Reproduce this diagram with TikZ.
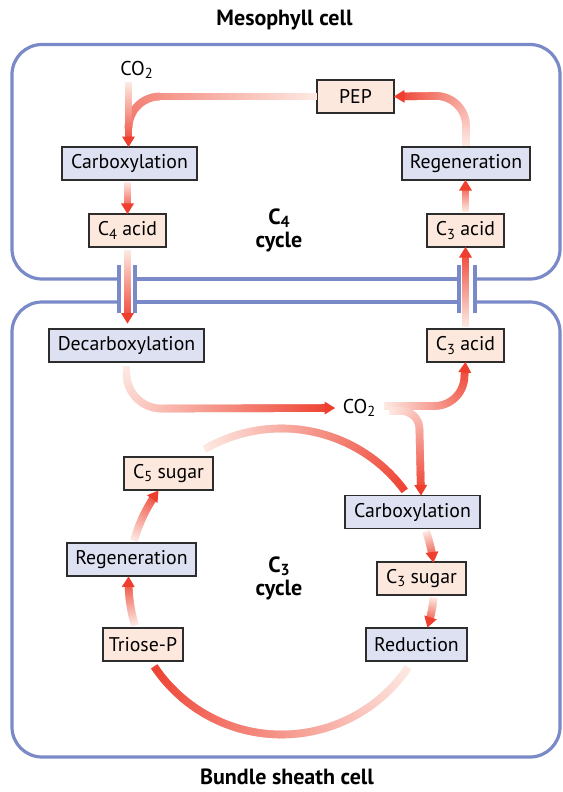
\documentclass[tikz,border=0pt]{standalone}
\usepackage{fontspec}
\setmainfont{PT Sans}
\usetikzlibrary{decorations.markings,calc}
\definecolor{gstart}{RGB}{253,234,227}
\definecolor{gend}{RGB}{238,62,46}
\definecolor{wall}{RGB}{122,137,200}
\definecolor{procfill}{RGB}{222,225,241}
\definecolor{chemfill}{RGB}{253,232,222}
\definecolor{boxline}{RGB}{45,45,45}
\newcommand\sbs[1]{\raisebox{-0.32ex}{\fontsize{14.5}{14.5}\selectfont #1}}
\newcommand\bsbs[1]{\raisebox{-0.32ex}{\fontsize{16}{16}\selectfont #1}}
\def\gmax{100}
\newcommand\gseg{%
  \pgfmathsetmacro\gpct{min(100,max(0,(\pgfkeysvalueof{/pgf/decoration/mark info/distance from start}/\pgfdecoratedpathlength)*\gmax))}%
  \fill[gend!\gpct!gstart] (-0.6pt,-3.8pt) rectangle (0.6pt,3.8pt);}
\newcommand\ghead{\fill[gend] (0.6pt,0pt) -- (-10pt,6.5pt) -- (-10pt,-6.5pt) -- cycle;}
\tikzset{
  garrow/.style={decoration={markings,
      mark=between positions 0 and -7pt step 0.7pt with {\gseg},
      mark=at position 1 with {\ghead}}, decorate},
  gline/.style={/utils/exec={\def\gmax{72}}, decoration={markings,
      mark=between positions 0 and 1 step 0.7pt with {\gseg}}, decorate},
  box/.style={draw=boxline, line width=1.1pt, minimum height=33pt, inner sep=0pt,
      font=\fontsize{19.8}{22}\selectfont},
  proc/.style={box, fill=procfill},
  chem/.style={box, fill=chemfill},
  wallline/.style={draw=wall, line width=3.2pt},
  barline/.style={draw=wall, line width=4pt},
  plain/.style={inner sep=0pt, font=\fontsize{20}{22}\selectfont},
  celltitle/.style={inner sep=0pt, font=\bfseries\fontsize{22}{24}\selectfont},
  cyclelabel/.style={inner sep=0pt, align=center, font=\bfseries\fontsize{22}{23}\selectfont},
}
\begin{document}
\begin{tikzpicture}[x=1pt,y=1pt]
\useasboundingbox (0,0) rectangle (562,-792);
\fill[white] (0,0) rectangle (562,-792);

% cell walls
\draw[wallline, rounded corners=30pt] (119,-279) -- (12,-279) -- (12,-44.5) -- (560,-44.5) -- (560,-279) -- (474.5,-279);
\draw[wallline] (135,-279) -- (459,-279);
\draw[wallline, rounded corners=30pt] (119,-302) -- (12,-302) -- (12,-757) -- (560,-757) -- (560,-302) -- (474.5,-302);
\draw[wallline] (135,-302) -- (459,-302);
\draw[barline] (119,-265) -- (119,-313);
\draw[barline] (135,-265) -- (135,-313);
\draw[barline] (459,-265) -- (459,-313);
\draw[barline] (474.5,-265) -- (474.5,-313);

% titles
\node[celltitle] (t1) at (284.5,-20) {Mesophyll cell};
\node[celltitle] (t2) at (287,-777) {Bundle sheath cell};

% mesophyll nodes
\node[plain] (co2A) at (136.5,-70) {CO\sbs{2}};
\node[chem, minimum width=77pt] (pep) at (355.5,-96.5) {PEP};
\node[proc, minimum width=135pt] (carbA) at (129.5,-163.5) {Carboxylation};
\node[chem, minimum width=77pt] (c4acid) at (127.5,-230.5) {C\sbs{4} acid};
\node[proc, minimum width=128pt] (regenA) at (466,-163.5) {Regeneration};
\node[chem, minimum width=77pt] (c3acidA) at (465.5,-230.5) {C\sbs{3} acid};
\node[cyclelabel] (c4lab) at (279,-230) {C\bsbs{4}\\cycle};

% bundle sheath nodes
\node[proc, minimum width=155pt] (decarb) at (126.5,-345.5) {Decarboxylation};
\node[chem, minimum width=77pt] (c3acidB) at (465.5,-345.5) {C\sbs{3} acid};
\node[plain] (co2B) at (359,-408) {CO\sbs{2}};
\node[proc, minimum width=135pt] (carbB) at (412.5,-512) {Carboxylation};
\node[chem, minimum width=89pt] (c3sugar) at (421.5,-578.5) {C\sbs{3} sugar};
\node[proc, minimum width=101pt] (reduct) at (416.5,-644.5) {Reduction};
\node[chem, minimum width=89pt] (c5sugar) at (168.5,-473.5) {C\sbs{5} sugar};
\node[proc, minimum width=129pt] (regenB) at (131.5,-559.5) {Regeneration};
\node[chem, minimum width=80pt] (triose) at (143,-644.5) {Triose-P};
\node[cyclelabel] (c3lab) at (279,-578) {C\bsbs{3}\\cycle};

% helper coordinates
\coordinate (co2Astart) at (128.5,-83);
\coordinate (carbAtip) at (128.5,-146.5);
\coordinate (pepturn) at (160,-96.5);
\coordinate (d4tip) at (127.5,-323);
\coordinate (c3c) at (281.5,-581.5);
\coordinate (cbtip) at (421,-495);

% C4 cycle arrows
\path[gline] (pep.west) -- (pepturn) arc[start angle=90, end angle=180, radius=31.5pt] -- ++(0,-14);
\path[garrow] (co2Astart) -- (carbAtip);
\path[garrow] ([yshift=-2pt]carbA.south -| c4acid.north) -- (c4acid.north);
\path[garrow] ([yshift=-3pt]c4acid.south) -- (d4tip);
\path[garrow] ([yshift=2pt]c3acidB.north) -- (c3acidA.south);
\path[garrow] ([yshift=2pt]c3acidA.north) -- (c3acidA.north |- regenA.south);
\path[garrow] ([yshift=1pt]regenA.north) -- ++(0,19.5) arc[start angle=0, end angle=90, radius=30pt] -- (pep.east);

% CO2 in bundle sheath
\path[garrow] ([yshift=-4pt]decarb.south) -- ++(0,-7) arc[start angle=180, end angle=270, radius=35pt] -- ([xshift=-8pt]co2B.west);
\path[garrow] ([xshift=9pt,yshift=2pt]co2B.east) -- ++(50,0) arc[start angle=-90, end angle=0, radius=30pt] -- (c3acidB.south);
\path[garrow] ([xshift=14pt,yshift=-3pt]co2B.east) -- ++(12,0) arc[start angle=90, end angle=0, radius=18pt] -- (cbtip);

% C3 cycle arrows
\path[garrow] ($(c3c)+(120:153pt)$) arc[start angle=120, end angle=34.5, radius=153pt];
\path[garrow] ($(c3c)+(19:153pt)$) arc[start angle=19, end angle=7.3, radius=153pt];
\path[garrow] ($(c3c)+(-6.2:153pt)$) arc[start angle=-6.2, end angle=-17.3, radius=153pt];
\path[garrow] ($(c3c)+(-34.3:153pt)$) arc[start angle=-34.3, end angle=-148.5, radius=153pt];
\path[garrow] ($(c3c)+(196.5:153pt)$) arc[start angle=196.5, end angle=178.3, radius=153pt];
\path[garrow] ($(c3c)+(164.3:153pt)$) arc[start angle=164.3, end angle=143.7, radius=153pt];
\end{tikzpicture}
\end{document}
